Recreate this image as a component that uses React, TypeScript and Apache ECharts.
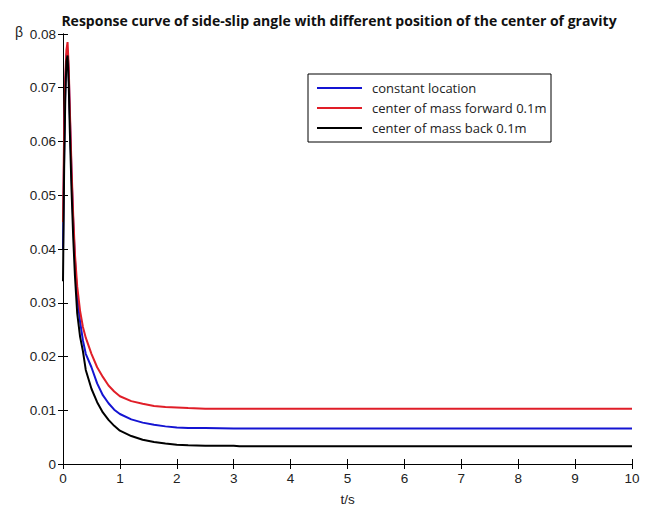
import React, { useEffect, useRef } from "react";
import * as echarts from "echarts";

// Time samples (s)
const time = [
  0, 0.02, 0.04, 0.06, 0.08, 0.1, 0.12, 0.15, 0.18, 0.21, 0.25, 0.3, 0.35, 0.4,
  0.5, 0.6, 0.7, 0.8, 0.9, 1.0, 1.2, 1.4, 1.6, 1.8, 2.0, 2.2, 2.5, 3.0, 3.1, 4,
  5, 6, 7, 8, 9, 10,
];

// Side-slip angle for the nominal centre-of-gravity location
const constantLocation = [
  0.04, 0.058, 0.07, 0.076, 0.077, 0.073, 0.065, 0.054, 0.045, 0.038, 0.031,
  0.0265, 0.023, 0.0205, 0.018, 0.015, 0.0128, 0.0113, 0.0101, 0.0093, 0.0083,
  0.0077, 0.0073, 0.007, 0.0068, 0.0067, 0.0067, 0.0066, 0.0066, 0.0066,
  0.0066, 0.0066, 0.0066, 0.0066, 0.0066, 0.0066,
];

// Centre of mass moved 0.1 m forward
const massForward = [
  0.045, 0.062, 0.072, 0.077, 0.0785, 0.074, 0.066, 0.055, 0.046, 0.039, 0.033,
  0.0285, 0.0255, 0.0235, 0.0205, 0.018, 0.0162, 0.0146, 0.0135, 0.0126,
  0.0117, 0.0112, 0.0108, 0.0106, 0.0105, 0.0104, 0.0103, 0.0103, 0.0103,
  0.0103, 0.0103, 0.0103, 0.0103, 0.0103, 0.0103, 0.0103,
];

// Centre of mass moved 0.1 m back
const massBack = [
  0.034, 0.055, 0.068, 0.075, 0.076, 0.071, 0.062, 0.051, 0.042, 0.035, 0.028,
  0.0237, 0.021, 0.0175, 0.014, 0.0115, 0.0096, 0.0082, 0.0071, 0.0062, 0.0052,
  0.0045, 0.0041, 0.0038, 0.0036, 0.0035, 0.0034, 0.0034, 0.0033, 0.0033,
  0.0033, 0.0033, 0.0033, 0.0033, 0.0033, 0.0033,
];

const seriesNames = [
  "constant location",
  "center of mass forward 0.1m",
  "center of mass back 0.1m",
];
const seriesColors = ["#1414d2", "#e01e28", "#000000"];

const titleText =
  "Response curve of side-slip angle with different position of the center of gravity";

const pair = (ys: number[]) => time.map((t, i) => [t, ys[i]]);

export default function App() {
  const ref = useRef<HTMLDivElement>(null);

  useEffect(() => {
    if (!ref.current) return;
    const chart = echarts.init(ref.current, null, { renderer: "svg" });
    const tickFont = {
      fontFamily: "Liberation Sans",
      fontSize: 13.5,
      color: "#222",
    };
    const axisLine = { show: true, lineStyle: { color: "#000", width: 1 } };
    const inTick = { show: true, inside: true, length: 5, lineStyle: { color: "#000" } };

    const allData = [constantLocation, massForward, massBack];

    chart.setOption({
      animation: false,
      backgroundColor: "#fff",
      title: {
        text: titleText,
        left: 334,
        top: 8,
        textAlign: "center",
        textStyle: {
          fontFamily: "Open Sans",
          fontWeight: "bold",
          fontSize: 14,
          color: "#111",
        },
      },
      grid: { left: 63, right: 17, top: 34, bottom: 37 },
      legend: {
        orient: "vertical",
        left: 317,
        top: 78,
        padding: 0,
        icon: "rect",
        itemWidth: 45,
        itemHeight: 2,
        itemGap: 0,
        textStyle: {
          fontFamily: "Open Sans",
          fontSize: 13,
          color: "#222",
          lineHeight: 20,
          padding: [0, 0, 0, 5],
        },
        data: seriesNames,
      },
      graphic: [
        {
          type: "rect",
          shape: { x: 308, y: 74, width: 243, height: 68 },
          style: { fill: "none", stroke: "#000", lineWidth: 1 },
          z: 10,
        },
        {
          type: "text",
          left: 15,
          top: 25,
          style: { text: "β", fontFamily: "Liberation Sans", fontSize: 14, fill: "#222" },
        },
      ],
      xAxis: [
        {
          type: "value",
          min: 0,
          max: 10,
          interval: 1,
          name: "t/s",
          nameLocation: "middle",
          nameGap: 28,
          nameTextStyle: { fontFamily: "Liberation Sans", fontSize: 13.5, color: "#222" },
          axisLine,
          axisTick: inTick,
          axisLabel: { ...tickFont, margin: 7 },
          splitLine: { show: false },
        },
        {
          type: "value",
          position: "top",
          min: 0,
          max: 10,
          interval: 1,
          axisLine,
          axisTick: inTick,
          axisLabel: { show: false },
          splitLine: { show: false },
        },
      ],
      yAxis: [
        {
          type: "value",
          min: 0,
          max: 0.08,
          interval: 0.01,
          axisLine,
          axisTick: inTick,
          axisLabel: {
            ...tickFont,
            margin: 7,
            formatter: (v: number) => (v === 0 ? "0" : v.toFixed(2)),
          },
          splitLine: { show: false },
        },
        {
          type: "value",
          position: "right",
          min: 0,
          max: 0.08,
          interval: 0.01,
          axisLine,
          axisTick: inTick,
          axisLabel: { show: false },
          splitLine: { show: false },
        },
      ],
      series: seriesNames.map((name, i) => ({
        name,
        type: "line",
        data: pair(allData[i]),
        showSymbol: false,
        symbol: "none",
        color: seriesColors[i],
        lineStyle: { color: seriesColors[i], width: 2 },
        z: 3,
      })),
    });
    return () => chart.dispose();
  }, []);

  return <div ref={ref} style={{ width: 649, height: 511, position: "absolute", left: 0, top: 0 }} />;
}
